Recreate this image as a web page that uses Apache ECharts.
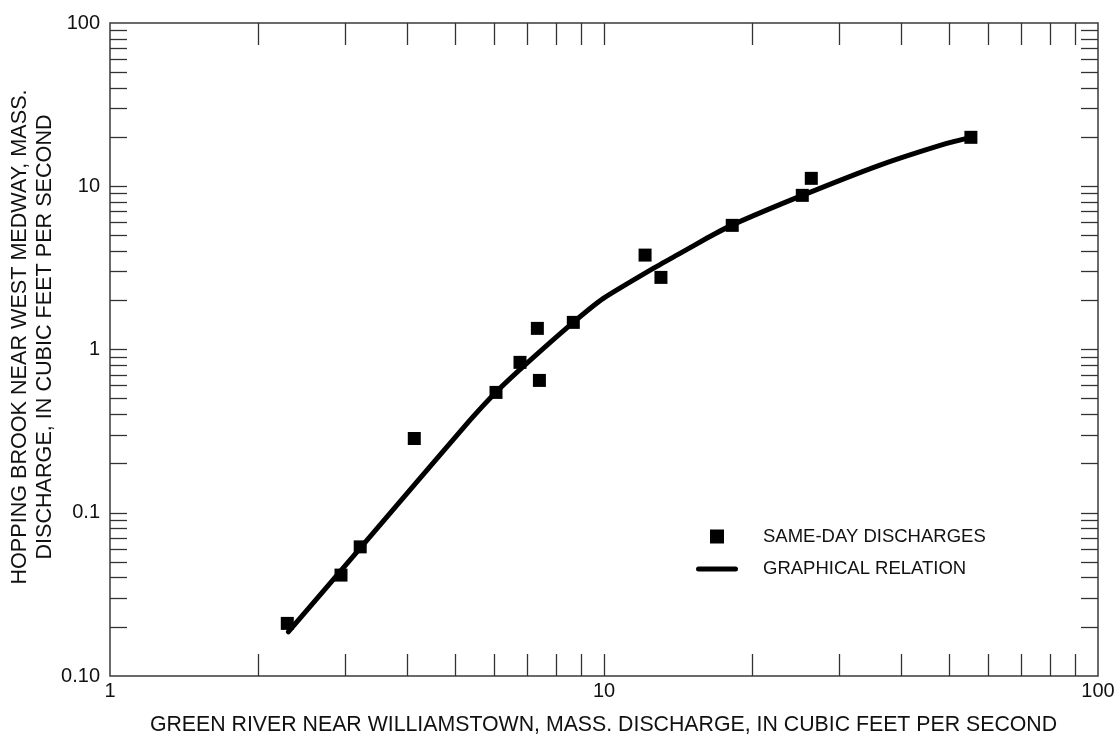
<!DOCTYPE html>
<html>
<head>
<meta charset="utf-8">
<script src="https://cdn.jsdelivr.net/npm/echarts@6/dist/echarts.min.js"></script>
<style>
html,body{margin:0;padding:0;background:#fff;}
#c{width:1115px;height:736px;}
</style>
</head>
<body>
<div id="c"></div>
<script>
// ---- data ----
const sameDayX = [2.285, 2.935, 3.21, 4.13, 6.045, 6.76, 7.33, 7.40, 8.667, 12.11, 13.04, 18.18, 25.2, 26.28, 55.3];
const sameDayY = [0.021, 0.0415, 0.0618, 0.285, 0.546, 0.834, 1.347, 0.6465, 1.466, 3.787, 2.765, 5.76, 8.795, 11.18, 19.94];
const relationX = [2.296, 3.21, 4.143, 5.355, 6.045, 6.975, 8.667, 9.97, 12.58, 14.25, 16.14, 18.14, 25.2, 36.2, 49.4, 55.3];
const relationY = [0.01863, 0.0607, 0.1495, 0.3695, 0.548, 0.822, 1.466, 2.057, 3.14, 3.88, 4.80, 5.78, 8.795, 13.49, 18.32, 19.94];
const xLabelValues = [1, 10, 100];
const xLabelText = ['1', '10', '100'];
const yLabelValues = [0.01, 0.1, 1, 10, 100];
const yLabelText = ['0.10', '0.1', '1', '10', '100'];
const xTickValues = [2, 3, 4, 5, 6, 7, 8, 9, 10, 20, 30, 40, 50, 60, 70, 80, 90];
const yTickValues = [0.02, 0.03, 0.04, 0.05, 0.06, 0.07, 0.08, 0.09, 0.1,
                     0.2, 0.3, 0.4, 0.5, 0.6, 0.7, 0.8, 0.9, 1,
                     2, 3, 4, 5, 6, 7, 8, 9, 10,
                     20, 30, 40, 50, 60, 70, 80, 90];
const xTitle = 'GREEN RIVER NEAR WILLIAMSTOWN, MASS. DISCHARGE, IN CUBIC FEET PER SECOND';
const yTitle = 'HOPPING BROOK NEAR WEST MEDWAY, MASS.\nDISCHARGE, IN CUBIC FEET PER SECOND';
const seriesNames = ['SAME-DAY DISCHARGES', 'GRAPHICAL RELATION'];

const FONT = '"Liberation Sans", Arial, Helvetica, sans-serif';
const TICK = {color: '#333', width: 1.3};

function labelFor(values, texts) {
  return function (v) {
    for (let i = 0; i < values.length; i++) {
      if (Math.abs(Math.log10(values[i]) - Math.log10(v)) < 1e-6) return texts[i];
    }
    return '';
  };
}

function tickAxis(pos, min, max, ticks, len) {
  return {
    type: 'value', position: pos, min: min, max: max,
    axisLine: {show: false, onZero: false}, axisLabel: {show: false}, splitLine: {show: false},
    axisTick: {show: true, inside: true, length: len, customValues: ticks.map(Math.log10), lineStyle: TICK}
  };
}

const chart = echarts.init(document.getElementById('c'), null, {renderer: 'canvas'});
chart.setOption({
  animation: false,
  backgroundColor: '#fff',
  grid: {left: 110, right: 17, top: 23, bottom: 60, show: true, borderColor: '#3a3a3a', borderWidth: 1.5,
         containLabel: false, outerBoundsMode: 'none'},
  xAxis: [
    {type: 'log', logBase: 10, min: 1, max: 100, position: 'bottom',
     axisLine: {show: false, onZero: false}, axisTick: {show: false}, splitLine: {show: false},
     axisLabel: {margin: 5, fontSize: 20, color: '#111', fontFamily: FONT, formatter: labelFor(xLabelValues, xLabelText)}},
    tickAxis('bottom', 0, 2, xTickValues, 22),
    tickAxis('top', 0, 2, xTickValues, 22)
  ],
  yAxis: [
    {type: 'log', logBase: 10, min: 0.01, max: 100, position: 'left',
     axisLine: {show: false, onZero: false}, axisTick: {show: false}, splitLine: {show: false},
     axisLabel: {margin: 10, fontSize: 20, color: '#111', fontFamily: FONT, formatter: labelFor(yLabelValues, yLabelText)}},
    tickAxis('left', -2, 2, yTickValues, 17),
    tickAxis('right', -2, 2, yTickValues, 17)
  ],
  legend: {
    left: 691, top: 522, orient: 'vertical', itemWidth: 42, itemHeight: 14, itemGap: 13.5,
    selectedMode: false,
    data: [
      {name: seriesNames[0], icon: 'path://M0 0H10V10H0Z'},
      {name: seriesNames[1], icon: 'path://M2.5 0H39.5A2.5 2.5 0 0 1 39.5 5H2.5A2.5 2.5 0 0 1 2.5 0Z',
       itemStyle: {color: '#000'}}
    ],
    textStyle: {fontSize: 18.5, color: '#111', fontFamily: FONT, padding: [0, 0, 0, 20]}
  },
  series: [
    {name: seriesNames[1], type: 'line', xAxisIndex: 0, yAxisIndex: 0,
     data: relationX.map((x, i) => [x, relationY[i]]),
     symbol: 'none', smooth: 0.15, silent: true, z: 2,
     lineStyle: {color: '#000', width: 5, cap: 'round', join: 'round'}, itemStyle: {color: '#000'}},
    {name: seriesNames[0], type: 'scatter', xAxisIndex: 0, yAxisIndex: 0,
     data: sameDayX.map((x, i) => [x, sameDayY[i]]),
     symbol: 'rect', symbolSize: 13, z: 3, itemStyle: {color: '#000', opacity: 1}}
  ],
  graphic: [
    {type: 'text', id: 'xt', x: 603.5, y: 725,
     style: {text: xTitle, font: '21.3px ' + FONT, fill: '#111', align: 'center', verticalAlign: 'middle'}},
    {type: 'text', id: 'yt', x: 32.5, y: 337, rotation: Math.PI / 2,
     style: {text: yTitle, font: '21.6px ' + FONT, fill: '#111', align: 'center', verticalAlign: 'middle', lineHeight: 25}}
  ]
});
</script>
</body>
</html>
